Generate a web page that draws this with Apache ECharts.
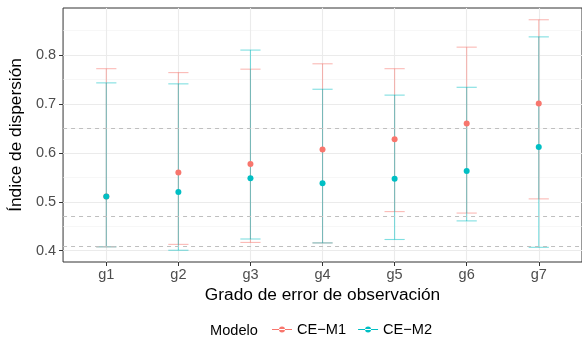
<!DOCTYPE html>
<html>
  <head>
    <meta charset="utf-8">
    <title>ECharts</title>
    <style type="text/css">
    html, body {margin:0; padding:0; background:#fff;}
    #chart {width:582px; height:342px;}
    </style>
    <script src="https://cdn.jsdelivr.net/npm/echarts@6/dist/echarts.min.js"></script>
  </head>
  <body>
    <div id="chart"></div>
    <script type="text/javascript">
      // datos
      var grupos = ['g1', 'g2', 'g3', 'g4', 'g5', 'g6', 'g7'];
      var m1_media = [0.511, 0.560, 0.577, 0.607, 0.628, 0.660, 0.701];
      var m1_inf   = [0.408, 0.413, 0.417, 0.416, 0.480, 0.477, 0.506];
      var m1_sup   = [0.772, 0.764, 0.771, 0.782, 0.772, 0.816, 0.872];
      var m2_media = [0.511, 0.520, 0.548, 0.538, 0.547, 0.563, 0.612];
      var m2_inf   = [0.408, 0.401, 0.424, 0.416, 0.423, 0.461, 0.407];
      var m2_sup   = [0.743, 0.741, 0.810, 0.730, 0.718, 0.734, 0.837];
      var lineas_ref = [0.653, 0.473, 0.413];
      var y_ticks = [0.4, 0.5, 0.6, 0.7, 0.8];
      var y_minor = [0.45, 0.55, 0.65, 0.75, 0.85];
      var nombres = ['CE\u2212M1', 'CE\u2212M2'];
      var colores = ['#F8766D', '#00BFC4'];

      var fuente = 'Liberation Sans, Arial, sans-serif';
      var x_pos = grupos.map(function(g, i){ return i + 1; });

      function barras(inf, sup) {
        return x_pos.map(function(x, i){ return [x, inf[i], sup[i]]; });
      }
      function puntos(media) {
        return x_pos.map(function(x, i){ return [x, media[i]]; });
      }
      function dibujaBarra(color) {
        return function(params, api) {
          var x = api.value(0);
          var pLo = api.coord([x, api.value(1)]);
          var pHi = api.coord([x, api.value(2)]);
          var hw = api.size([0.14, 0])[0];
          var st = {stroke: color, lineWidth: 1.1, fill: null};
          return {
            type: 'group',
            children: [
              {type: 'line', shape: {x1: pLo[0], y1: pLo[1], x2: pHi[0], y2: pHi[1]}, style: st},
              {type: 'line', shape: {x1: pHi[0]-hw, y1: pHi[1], x2: pHi[0]+hw, y2: pHi[1]}, style: st},
              {type: 'line', shape: {x1: pLo[0]-hw, y1: pLo[1], x2: pLo[0]+hw, y2: pLo[1]}, style: st}
            ]
          };
        };
      }

      var chart = echarts.init(document.getElementById('chart'));
      var icono = 'path://M0,3.6h20v0.8h-20z M7,4a3,3 0 1,0 6,0a3,3 0 1,0 -6,0z';
      var option = {
        animation: false,
        backgroundColor: '#ffffff',
        textStyle: {fontFamily: fuente},
        grid: {left: 61, right: 0, top: 8, bottom: 80, show: true,
               borderColor: '#333333', borderWidth: 1, backgroundColor: '#ffffff'},
        graphic: [{
          type: 'text', left: 210, top: 323,
          style: {text: 'Modelo', font: '14.6px ' + fuente, fill: '#000'}
        }],
        legend: {
          left: 267, top: 317,
          itemWidth: 20, itemHeight: 8, itemGap: 12,
          textStyle: {fontSize: 14.6, color: '#000', fontFamily: fuente},
          data: [
            {name: nombres[0], icon: icono},
            {name: nombres[1], icon: icono}
          ]
        },
        xAxis: {
          type: 'value', min: 0.4, max: 7.6,
          name: 'Grado de error de observación',
          nameLocation: 'middle', nameGap: 22,
          nameTextStyle: {fontSize: 17.3, color: '#000'},
          axisLine: {show: false},
          axisTick: {show: true, length: 4, customValues: x_pos, lineStyle: {color: '#333333'}},
          axisLabel: {customValues: x_pos, fontSize: 14.5, color: '#4d4d4d', margin: 5,
                      formatter: function(v){ return grupos[Math.round(v) - 1] || ''; }},
          splitLine: {show: true, lineStyle: {color: '#ebebeb', width: 1.1}}
        },
        yAxis: [{
          type: 'value', min: 0.377, max: 0.896,
          name: 'Índice de dispersión',
          nameLocation: 'middle', nameGap: 30,
          nameTextStyle: {fontSize: 17.3, color: '#000'},
          axisLine: {show: false},
          axisTick: {show: true, length: 4, customValues: y_ticks, lineStyle: {color: '#333333'}},
          axisLabel: {customValues: y_ticks, fontSize: 14.5, color: '#4d4d4d', margin: 7,
                      formatter: function(v){ return v.toFixed(1); }},
          splitLine: {show: true, lineStyle: {color: '#ebebeb', width: 1.1}}
        }, {
          type: 'value', min: 0.377, max: 0.896, position: 'left',
          axisLine: {show: false}, axisLabel: {show: false},
          axisTick: {show: false, customValues: y_minor},
          splitLine: {show: true, lineStyle: {color: '#f2f2f2', width: 0.6}}
        }],
        series: [
          {
            type: 'custom', name: nombres[0] + ' barras', renderItem: dibujaBarra('rgba(248,118,109,0.5)'),
            data: barras(m1_inf, m1_sup), encode: {x: 0, y: [1, 2]}, z: 2,
            markLine: {
              silent: true, symbol: 'none', label: {show: false},
              lineStyle: {color: '#bfbfbf', type: [4, 4], width: 1},
              data: lineas_ref.map(function(v){ return {yAxis: v}; })
            }
          },
          {
            type: 'custom', name: nombres[1] + ' barras', renderItem: dibujaBarra('rgba(0,191,196,0.5)'),
            data: barras(m2_inf, m2_sup), encode: {x: 0, y: [1, 2]}, z: 3
          },
          {
            type: 'scatter', name: nombres[0], data: puntos(m1_media), symbolSize: 6,
            itemStyle: {color: colores[0], opacity: 1}, z: 4
          },
          {
            type: 'scatter', name: nombres[1], data: puntos(m2_media), symbolSize: 6,
            itemStyle: {color: colores[1], opacity: 1}, z: 5
          }
        ]
      };
      chart.setOption(option);
    </script>
  </body>
</html>
